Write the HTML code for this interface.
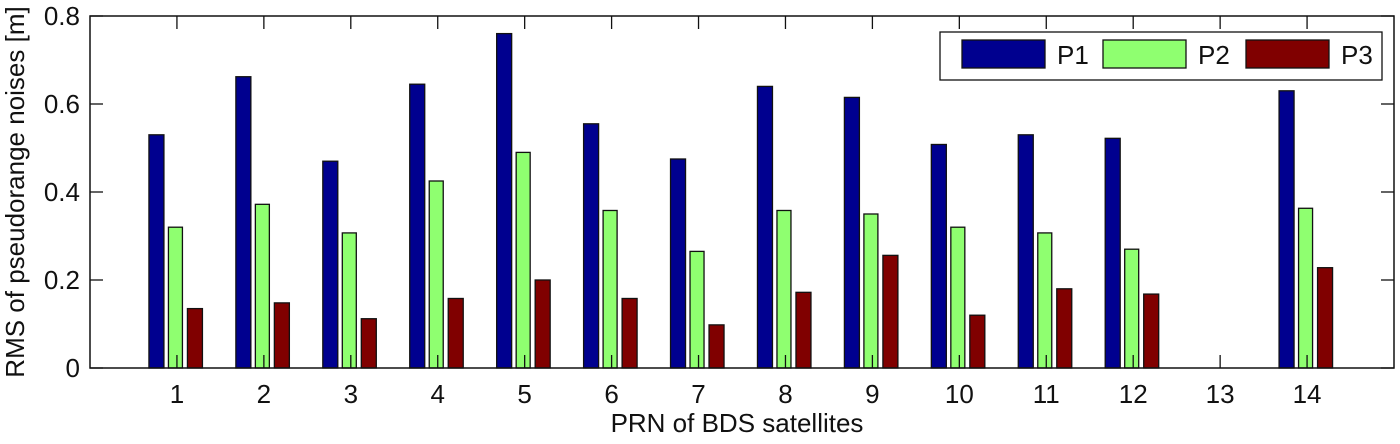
<!DOCTYPE html>
<html><head><meta charset="utf-8"><style>
body{margin:0;background:#fff;}
text{font-family:"Liberation Sans",sans-serif;fill:#111;}
</style></head><body>
<svg id="chart" width="1400" height="439" xmlns="http://www.w3.org/2000/svg"></svg>
<script>
const categories=[1,2,3,4,5,6,7,8,9,10,11,12,13,14];
const p1Values=[0.53,0.662,0.47,0.645,0.76,0.555,0.475,0.64,0.615,0.508,0.53,0.522,0,0.63];
const p2Values=[0.32,0.372,0.307,0.425,0.49,0.358,0.265,0.358,0.35,0.32,0.307,0.27,0,0.363];
const p3Values=[0.135,0.148,0.112,0.158,0.2,0.158,0.098,0.172,0.256,0.12,0.18,0.168,0,0.228];
const yTicks=[0,0.2,0.4,0.6,0.8];
const yTickLabels=['0','0.2','0.4','0.6','0.8'];
const seriesNames=['P1','P2','P3'];

const NS='http://www.w3.org/2000/svg';
const svg=document.getElementById('chart');
const L=90,R=1394,T=16,B=368;
const xs=v=>L+(R-L)*v/15;
const ys=v=>B-(B-T)*v/0.8;
function mk(tag,attrs,parent){const e=document.createElementNS(NS,tag);for(const k in attrs)e.setAttribute(k,attrs[k]);(parent||svg).appendChild(e);return e;}
const colors=['#00008f','#8fff70','#800000'];
const offsets=[-20.5,-1.5,18];
const widths=[15,14,15];
const series=[p1Values,p2Values,p3Values];
series.forEach((vals,s)=>{
  vals.forEach((v,i)=>{
    if(v<=0)return;
    const cx=xs(categories[i])+offsets[s];
    const r=mk('rect',{x:cx-widths[s]/2,y:ys(v),width:widths[s],height:ys(0)-ys(v),fill:colors[s],stroke:'#111','stroke-width':1.3});
    
    
  });
});
const box=mk('rect',{x:L,y:T,width:R-L,height:B-T,fill:'none',stroke:'#111','stroke-width':1.5});


categories.forEach(c=>{
  const x=xs(c);
  mk('line',{x1:x,x2:x,y1:B,y2:B-13,stroke:'#111','stroke-width':1.3});
  mk('line',{x1:x,x2:x,y1:T,y2:T+13,stroke:'#111','stroke-width':1.3});
  const t=mk('text',{x:x,y:B+35,'text-anchor':'middle','font-size':26});
  t.textContent=c;
  
  
});
yTicks.forEach((v,i)=>{
  const y=ys(v);
  mk('line',{x1:L,x2:L+13,y1:y,y2:y,stroke:'#111','stroke-width':1.3});
  mk('line',{x1:R,x2:R-13,y1:y,y2:y,stroke:'#111','stroke-width':1.3});
  const t=mk('text',{x:L-10,y:y+9,'text-anchor':'end','font-size':26});
  t.textContent=yTickLabels[i];
  
  
});
const xt=mk('text',{x:(L+R)/2-5,y:432,'text-anchor':'middle','font-size':26});
xt.textContent='PRN of BDS satellites';


const yt=mk('text',{x:0,y:0,'text-anchor':'middle','font-size':26,transform:'translate(24,192) rotate(-90)'});
yt.textContent='RMS of pseudorange noises [m]';


const lg=mk('g',{});


mk('rect',{x:940,y:32,width:442,height:48,fill:'#fff',stroke:'#111','stroke-width':1.3},lg);
const sx=[962,1103,1246];
seriesNames.forEach((n,i)=>{
  const sw=mk('rect',{x:sx[i],y:40,width:83,height:28,fill:colors[i],stroke:'#111','stroke-width':1.3},lg);
  
  
  const t=mk('text',{x:sx[i]+95,y:64,'font-size':26},lg);
  t.textContent=n;
  
  
});
</script>
</body></html>
